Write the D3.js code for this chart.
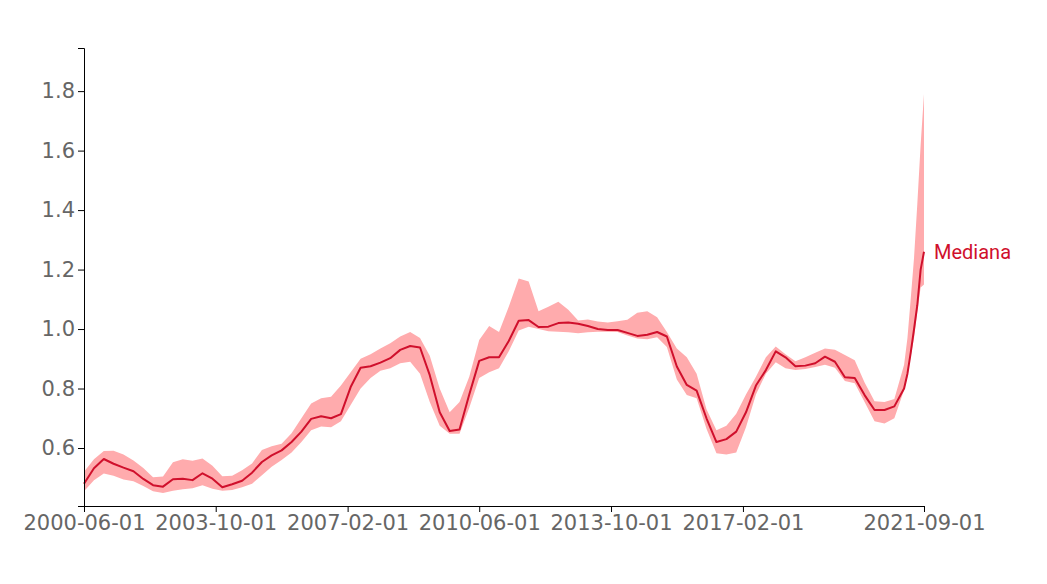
<!DOCTYPE html>
<html>
<head>
<meta charset="utf-8">
<script src="https://cdn.jsdelivr.net/npm/d3@7"></script>
<style>
  html, body { margin: 0; padding: 0; background: #fff; }
  svg { display: block; }
</style>
</head>
<body>
<svg id="chart" width="1047" height="584"></svg>
<script>
const dates = [
  "2000-06-01","2000-09-01","2000-12-01","2001-03-01","2001-06-01","2001-09-01","2001-12-01",
  "2002-03-01","2002-06-01","2002-09-01","2002-12-01","2003-03-01","2003-06-01","2003-09-01","2003-12-01",
  "2004-03-01","2004-06-01","2004-09-01","2004-12-01","2005-03-01","2005-06-01","2005-09-01","2005-12-01",
  "2006-03-01","2006-06-01","2006-09-01","2006-12-01","2007-03-01","2007-06-01","2007-09-01","2007-12-01",
  "2008-03-01","2008-06-01","2008-09-01","2008-12-01","2009-03-01","2009-06-01","2009-09-01","2009-12-01",
  "2010-03-01","2010-06-01","2010-09-01","2010-12-01","2011-03-01","2011-06-01","2011-09-01","2011-12-01",
  "2012-03-01","2012-06-01","2012-09-01","2012-12-01","2013-03-01","2013-06-01","2013-09-01","2013-12-01",
  "2014-03-01","2014-06-01","2014-09-01","2014-12-01","2015-03-01","2015-06-01","2015-09-01","2015-12-01",
  "2016-03-01","2016-06-01","2016-09-01","2016-12-01","2017-03-01","2017-06-01","2017-09-01","2017-12-01",
  "2018-03-01","2018-06-01","2018-09-01","2018-12-01","2019-03-01","2019-06-01","2019-09-01","2019-12-01",
  "2020-03-01","2020-06-01","2020-09-01","2020-12-01","2021-03-01","2021-04-01","2021-05-01","2021-06-01",
  "2021-07-01","2021-08-01","2021-09-01"
];

const median = [
  0.48,0.532,0.563,0.547,0.534,0.522,0.496,
  0.475,0.47,0.495,0.497,0.492,0.515,0.497,0.468,
  0.478,0.49,0.517,0.553,0.575,0.592,0.62,0.655,
  0.698,0.707,0.70,0.714,0.805,0.87,0.875,0.887,
  0.902,0.93,0.943,0.938,0.845,0.72,0.657,0.662,
  0.78,0.893,0.905,0.905,0.96,1.028,1.03,1.007,
  1.008,1.02,1.022,1.018,1.01,1.0,0.997,0.997,
  0.987,0.977,0.981,0.99,0.975,0.874,0.812,0.793,
  0.70,0.62,0.63,0.655,0.72,0.81,0.862,0.925,
  0.905,0.875,0.877,0.885,0.907,0.89,0.838,0.835,
  0.778,0.728,0.728,0.74,0.80,0.85,0.92,1.0,
  1.08,1.20,1.26
];

const upper = [
  0.52,0.562,0.59,0.591,0.578,0.558,0.533,
  0.502,0.504,0.552,0.562,0.557,0.565,0.54,0.505,
  0.507,0.525,0.548,0.593,0.606,0.614,0.65,0.70,
  0.75,0.767,0.772,0.81,0.855,0.90,0.915,0.935,
  0.952,0.975,0.99,0.97,0.91,0.80,0.72,0.755,
  0.84,0.963,1.01,0.99,1.075,1.17,1.16,1.06,
  1.075,1.092,1.065,1.029,1.032,1.025,1.022,1.026,
  1.031,1.055,1.06,1.04,0.99,0.935,0.905,0.85,
  0.73,0.66,0.675,0.715,0.78,0.84,0.905,0.941,
  0.915,0.892,0.905,0.92,0.935,0.93,0.913,0.895,
  0.82,0.757,0.755,0.765,0.88,0.97,1.10,1.24,
  1.42,1.62,1.79
];

const lower = [
  0.455,0.492,0.514,0.507,0.494,0.488,0.472,
  0.455,0.449,0.456,0.461,0.465,0.475,0.463,0.456,
  0.459,0.468,0.48,0.508,0.537,0.56,0.585,0.62,
  0.66,0.672,0.67,0.69,0.745,0.80,0.835,0.86,
  0.868,0.885,0.89,0.85,0.755,0.675,0.648,0.648,
  0.735,0.835,0.855,0.868,0.925,0.995,1.008,1.0,
  0.993,0.991,0.989,0.986,0.989,0.991,0.991,0.99,
  0.978,0.968,0.966,0.972,0.94,0.83,0.778,0.767,
  0.665,0.582,0.578,0.585,0.67,0.78,0.85,0.888,
  0.868,0.862,0.866,0.872,0.88,0.87,0.825,0.818,
  0.755,0.69,0.682,0.70,0.795,0.84,0.91,0.97,
  1.06,1.14,1.15
];

const xTickLabels = ["2000-06-01","2003-10-01","2007-02-01","2010-06-01","2013-10-01","2017-02-01","2021-09-01"];
const yDomain = [0.405, 1.945];
const seriesLabel = "Mediana";

const parse = d3.timeParse("%Y-%m-%d");
const data = dates.map((d, i) => ({ date: parse(d), m: median[i], u: upper[i], l: lower[i] }));

const W = 1047, H = 584;
const margin = { top: 48, right: 123, bottom: 78, left: 84 };

const svg = d3.select("#chart");

const x = d3.scaleTime()
  .domain([parse(dates[0]), parse(dates[dates.length - 1])])
  .range([margin.left, W - margin.right]);

const y = d3.scaleLinear()
  .domain(yDomain)
  .range([H - margin.bottom, margin.top]);

const band = d3.area()
  .x(d => x(d.date))
  .y0(d => y(d.l))
  .y1(d => y(d.u));

const line = d3.line()
  .x(d => x(d.date))
  .y(d => y(d.m));

svg.append("path")
  .datum(data)
  .attr("fill", "#ffabad")
  .attr("d", band);

svg.append("path")
  .datum(data)
  .attr("fill", "none")
  .attr("stroke", "#d0102c")
  .attr("stroke-width", 2)
  .attr("stroke-linejoin", "round")
  .attr("d", line);

const xAxis = svg.append("g")
  .attr("transform", `translate(0,${H - margin.bottom})`)
  .call(d3.axisBottom(x)
    .tickValues(xTickLabels.map(parse))
    .tickFormat(d3.timeFormat("%Y-%m-%d")));

const yAxis = svg.append("g")
  .attr("transform", `translate(${margin.left},0)`)
  .call(d3.axisLeft(y).ticks(7).tickFormat(d3.format(".1f")));

[xAxis, yAxis].forEach(g => {
  g.selectAll("text")
    .attr("fill", "#666")
    .style("font-family", "'DejaVu Sans', sans-serif")
    .style("font-size", "21px");
  g.selectAll("line").attr("stroke", "#000");
  g.select(".domain").attr("stroke", "#000");
});

const last = data[data.length - 1];
svg.append("text")
  .attr("x", x(last.date) + 10)
  .attr("y", y(last.m))
  .attr("dy", "0.35em")
  .attr("fill", "#d0102c")
  .style("font-family", "Roboto, sans-serif")
  .style("font-size", "20px")
  .text(seriesLabel);
</script>
</body>
</html>
